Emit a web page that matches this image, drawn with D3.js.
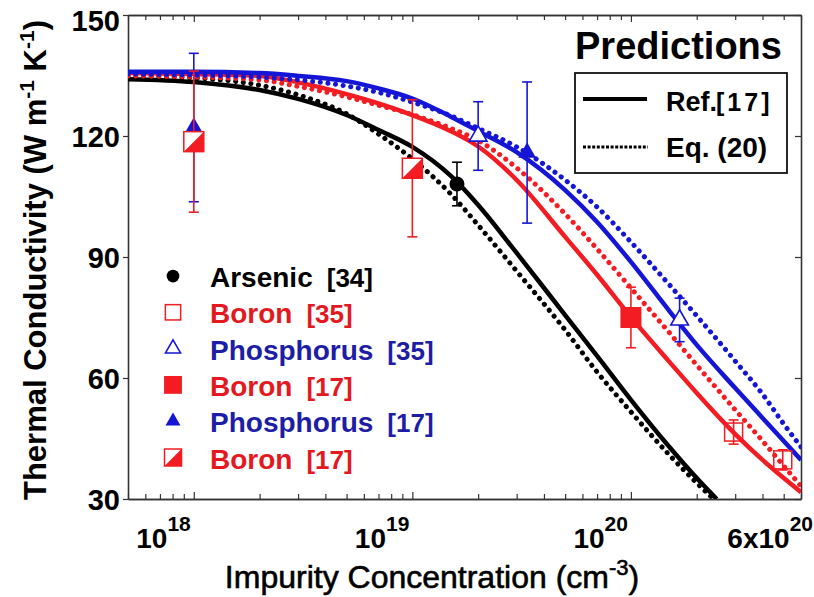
<!DOCTYPE html>
<html><head><meta charset="utf-8">
<script src="https://cdn.jsdelivr.net/npm/d3@7"></script>
<style>
body{margin:0;background:#fff;}
svg text{font-family:"Liberation Sans",Arial,Helvetica,sans-serif;}
</style></head><body>
<svg id="chart" width="814" height="597"></svg>
<script>
// ---------------- DATA ----------------
// impurity concentration (cm^-3) sample points for the prediction curves
const concentrations = [5e17,1e18,2e18,3e18,5e18,7e18,1e19,1.5e19,2e19,3e19,5e19,7e19,1e20,1.5e20,2e20,3e20,4e20,5e20,6e20];
const arsenicRefN = [5e17,1e18,2e18,3e18,5e18,7e18,1e19,1.5e19,2e19,3e19,5e19,7e19,1e20,1.5e20,2e20,2.47e20];
const arsenicRefK = [134.1,133.4,131.4,129.2,125.2,121.5,117.3,110.1,102.9,91.0,75.6,65.5,54.6,42.9,35.2,30.0];
const arsenicEqN  = [5e17,1e18,2e18,3e18,5e18,7e18,1e19,1.5e19,2e19,3e19,5e19,7e19,1e20,1.5e20,2e20,2.39e20];
const arsenicEqK  = [134.9,134.4,132.6,130.2,125.5,120.5,114.3,105.6,97.9,86.5,71.9,61.5,51.6,40.9,34.0,30.0];
const boronRefK   = [135.6,135.4,134.9,133.3,130.4,128.1,125.2,121.2,117.4,109.1,95.0,85.6,75.1,64.0,56.3,46.1,39.7,35.2,31.7];
const boronEqK    = [134.9,134.6,133.9,132.3,129.7,127.6,125.3,121.9,118.9,112.1,100.7,92.0,82.3,71.2,63.2,52.1,44.4,38.2,33.2];
const phosRefK    = [135.9,135.9,135.6,134.9,133.6,131.8,129.3,124.8,121.2,116.0,106.6,98.7,88.8,76.6,68.2,57.5,50.1,44.4,39.7];
const phosEqK     = [135.4,135.1,134.6,133.9,132.4,130.8,128.4,125.0,121.9,117.3,109.1,102.4,93.7,83.1,75.4,64.2,56.0,48.6,42.9];

// measured points: concentration, conductivity, error
const arsenic34   = [{n:1.6e19, k:108.1, e:5.4}];
const boron35     = [{n:2.95e20, k:46.6, e:3.0},{n:4.95e20, k:39.7, e:2.5}];
const phos35      = [{n:2.0e19, k:120.0, e:8.5},{n:1.67e20, k:74.4, e:5.4}];
const boron17     = [{n:1.0e20, k:75.0, e:7.5}];
const phos17      = [{n:1.0e18, k:122.1, e:18.4},{n:3.35e19, k:115.9, e:17.5}];
const boron17half = [{n:1.0e18, k:118.6, e:17.5},{n:1.0e19, k:112.0, e:17.0}];

const yTicks = [30,60,90,120,150];
const xMajor = [1e18,1e19,1e20];
const xLabels = [{v:1e18, pre:"10", sup:"18"},{v:1e19, pre:"10", sup:"19"},{v:1e20, pre:"10", sup:"20"},{v:6e20, pre:"6x10", sup:"20"}];
const legendLabels = ["Arsenic","Boron","Phosphorus","Boron","Phosphorus","Boron"];
const legendRefs   = ["[34]","[35]","[35]","[17]","[17]","[17]"];
const legendKinds  = ["circle","openSquare","openTriangle","square","triangle","halfSquare"];
const legendKindsColor = ["black","red","blue","red","blue","red"];

// ---------------- SETUP ----------------
const RED="#f21c22", BLUE="#1515d6", BLACK="#000";
const TRED="#e3191f", TBLUE="#1d1da6";
const colorOf = {black:BLACK, red:RED, blue:BLUE};
const textColorOf = {black:BLACK, red:TRED, blue:TBLUE};

const svg = d3.select("#chart");
const M = {left:128, right:801, top:15, bottom:499};
const x = d3.scaleLog().domain([5e17,6e20]).range([M.left,M.right]);
const y = d3.scaleLinear().domain([30,150]).range([M.bottom,M.top]);

svg.append("defs").append("clipPath").attr("id","plotclip")
  .append("rect").attr("x",M.left).attr("y",M.top)
  .attr("width",M.right-M.left).attr("height",M.bottom-M.top);

// minor tick values
const minor = [];
for (let p=17;p<=20;p++) for (let m=1;m<=9;m++){const v=m*Math.pow(10,p); if(v>=5e17*0.999 && v<=6e20*1.001 && !xMajor.includes(v)) minor.push(v);}

function styleAxis(g){
  g.select(".domain").attr("stroke","#333").attr("stroke-width",1.6);
  g.selectAll(".tick line").attr("stroke","#333").attr("stroke-width",1.2);
}
// bottom axis
const gB = svg.append("g").attr("transform",`translate(0,${M.bottom})`)
  .call(d3.axisBottom(x).tickValues(minor).tickSize(-5).tickSizeOuter(0).tickFormat(""));
styleAxis(gB);
const gBM = svg.append("g").attr("transform",`translate(0,${M.bottom})`)
  .call(d3.axisBottom(x).tickValues(xMajor).tickSize(-7).tickSizeOuter(0).tickFormat(""));
styleAxis(gBM);
// top axis
const gT = svg.append("g").attr("transform",`translate(0,${M.top})`)
  .call(d3.axisTop(x).tickValues(minor).tickSize(-5).tickSizeOuter(0).tickFormat(""));
styleAxis(gT);
const gTM = svg.append("g").attr("transform",`translate(0,${M.top})`)
  .call(d3.axisTop(x).tickValues(xMajor).tickSize(-7).tickSizeOuter(0).tickFormat(""));
styleAxis(gTM);
// left axis
const gL = svg.append("g").attr("transform",`translate(${M.left},0)`)
  .call(d3.axisLeft(y).tickValues(yTicks).tickSize(5).tickSizeOuter(0).tickPadding(3));
styleAxis(gL);
gL.selectAll(".tick text").attr("font-size",29).attr("font-weight","bold").attr("fill","#000")
  .attr("font-family",'"Liberation Sans",Arial,sans-serif')
  .attr("dy", d => d===150 ? "0.53em" : "0.37em");
// right axis
const gR = svg.append("g").attr("transform",`translate(${M.right},0)`)
  .call(d3.axisRight(y).tickValues(yTicks).tickSize(-6).tickSizeOuter(0).tickFormat(""));
styleAxis(gR);

// x tick labels with superscripts
const xl = svg.append("g");
xLabels.forEach(L=>{
  const t = xl.append("text").attr("text-anchor","end")
    .attr("x", x(L.v) + (L.v===6e20 ? 12 : -3)).attr("y", 548)
    .attr("font-weight","bold").attr("font-size",28).attr("fill","#000");
  t.append("tspan").text(L.pre);
  t.append("tspan").attr("font-size",21).attr("dy",-17).text(L.sup);
});

// axis titles
const xt = svg.append("text").attr("x",432).attr("y",588).attr("text-anchor","middle")
  .attr("font-size",32).attr("fill","#000").attr("stroke","#000").attr("stroke-width",0.6);
xt.append("tspan").text("Impurity Concentration (cm");
xt.append("tspan").attr("font-size",22).attr("dy",-13).text("-3");
xt.append("tspan").attr("dy",13).text(")");

const yt = svg.append("text").attr("transform","translate(46,260) rotate(-90)")
  .attr("text-anchor","middle").attr("font-size",31).attr("font-weight","bold").attr("fill","#000");
yt.append("tspan").text("Thermal Conductivity (W m");
yt.append("tspan").attr("font-size",21).attr("dy",-12).text("-1");
yt.append("tspan").attr("dy",12).text(" K");
yt.append("tspan").attr("font-size",21).attr("dy",-12).text("-1");
yt.append("tspan").attr("dy",12).text(")");

// ---------------- CURVES ----------------
const plot = svg.append("g").attr("clip-path","url(#plotclip)");
const line = d3.line().x(d=>x(d[0])).y(d=>y(d[1])).curve(d3.curveMonotoneX);
function curve(ns, ks, color, dotted){
  const p = plot.append("path").attr("d", line(d3.zip(ns,ks)))
    .attr("fill","none").attr("stroke",color);
  if (dotted) p.attr("stroke-width",5).attr("stroke-dasharray","0.1 7.6").attr("stroke-linecap","round");
  else p.attr("stroke-width",4.5).attr("stroke-linejoin","round");
}
curve(arsenicRefN, arsenicRefK, BLACK, false);
curve(arsenicEqN, arsenicEqK, BLACK, true);
curve(concentrations, boronRefK, RED, false);
curve(concentrations, boronEqK, RED, true);
curve(concentrations, phosRefK, BLUE, false);
curve(concentrations, phosEqK, BLUE, true);

// ---------------- MARKERS ----------------
const mk = svg.append("g");
function errorBars(data, color){
  data.forEach(d=>{
    const g = mk.append("g").attr("stroke",color).attr("stroke-width",1.6);
    const cx = x(d.n), y1 = y(d.k+d.e), y2 = y(d.k-d.e);
    g.append("line").attr("x1",cx).attr("x2",cx).attr("y1",y1).attr("y2",y2);
    g.append("line").attr("x1",cx-5).attr("x2",cx+5).attr("y1",y1).attr("y2",y1);
    g.append("line").attr("x1",cx-5).attr("x2",cx+5).attr("y1",y2).attr("y2",y2);
  });
}
function drawSymbol(g, kind, cx, cy, color, s){
  if (kind==="circle"){
    g.append("circle").attr("cx",cx).attr("cy",cy).attr("r",7.5*s).attr("fill",color);
  } else if (kind==="openSquare"){
    const h=9*s;
    g.append("rect").attr("x",cx-h).attr("y",cy-h).attr("width",2*h).attr("height",2*h)
      .attr("fill","none").attr("stroke",color).attr("stroke-width",1.5);
  } else if (kind==="square"){
    const h=10.5*s;
    g.append("rect").attr("x",cx-h).attr("y",cy-h).attr("width",2*h).attr("height",2*h).attr("fill",color);
  } else if (kind==="halfSquare"){
    const h=10*s;
    g.append("rect").attr("x",cx-h).attr("y",cy-h).attr("width",2*h).attr("height",2*h)
      .attr("fill","#fff").attr("stroke",color).attr("stroke-width",1.5);
    g.append("path").attr("d",`M${cx+h},${cy-h}L${cx+h},${cy+h}L${cx-h},${cy+h}Z`).attr("fill",color);
  } else if (kind==="openTriangle" || kind==="triangle"){
    const p = d3.symbol(d3.symbolTriangle).size(135*s*s)();
    const t = g.append("path").attr("d",p).attr("transform",`translate(${cx},${cy})`);
    if (kind==="triangle") t.attr("fill",color);
    else t.attr("fill","#fff").attr("stroke",color).attr("stroke-width",1.6);
  }
}
function markers(data, kind, color){
  data.forEach(d=> drawSymbol(mk, kind, x(d.n), y(d.k), color, 1));
}
errorBars(phos17, BLUE);      markers(phos17, "triangle", BLUE);
errorBars(boron17half, RED);  markers(boron17half, "halfSquare", RED);
errorBars(arsenic34, BLACK);  markers(arsenic34, "circle", BLACK);
errorBars(phos35, BLUE);      markers(phos35, "openTriangle", BLUE);
errorBars(boron17, RED);      markers(boron17, "square", RED);
errorBars(boron35, RED);      markers(boron35, "openSquare", RED);

// ---------------- LEFT LEGEND ----------------
const lg = svg.append("g");
legendLabels.forEach((lab,i)=>{
  const base = 287 + i*36.3;
  const c = legendKindsColor[i];
  drawSymbol(lg, legendKinds[i], 173, base-11, colorOf[c], 0.85);
  const t = lg.append("text").attr("x",210).attr("y",base).attr("font-size",28)
    .attr("font-weight","bold").attr("fill",textColorOf[c]).text(lab);
  const w = t.node().getComputedTextLength();
  lg.append("text").attr("x",210+w+14).attr("y",base).attr("font-size",26)
    .attr("font-weight","bold").attr("fill",textColorOf[c]).text(legendRefs[i]);
});

// ---------------- PREDICTIONS LEGEND ----------------
const pg = svg.append("g");
pg.append("rect").attr("x",575).attr("y",73).attr("width",212).attr("height",100)
  .attr("fill","#fff").attr("stroke","#111").attr("stroke-width",1.8);
pg.append("text").attr("x",575).attr("y",59).attr("font-size",38).attr("font-weight","bold").attr("fill","#000").text("Predictions");
pg.append("line").attr("x1",583).attr("x2",647).attr("y1",99).attr("y2",99).attr("stroke","#000").attr("stroke-width",4);
pg.append("line").attr("x1",583).attr("x2",648).attr("y1",147).attr("y2",147).attr("stroke","#000")
  .attr("stroke-width",3).attr("stroke-dasharray","3 1.6");
pg.append("text").attr("x",666).attr("y",111).attr("font-size",27).attr("font-weight","bold").attr("fill","#000").text("Ref.");
pg.append("text").attr("x",716).attr("y",111).attr("font-size",25).attr("font-weight","bold").attr("fill","#000")
  .attr("letter-spacing",3).text("[17]");
pg.append("text").attr("x",666).attr("y",157).attr("font-size",28).attr("font-weight","bold").attr("fill","#000").text("Eq. (20)");
</script>
</body></html>
